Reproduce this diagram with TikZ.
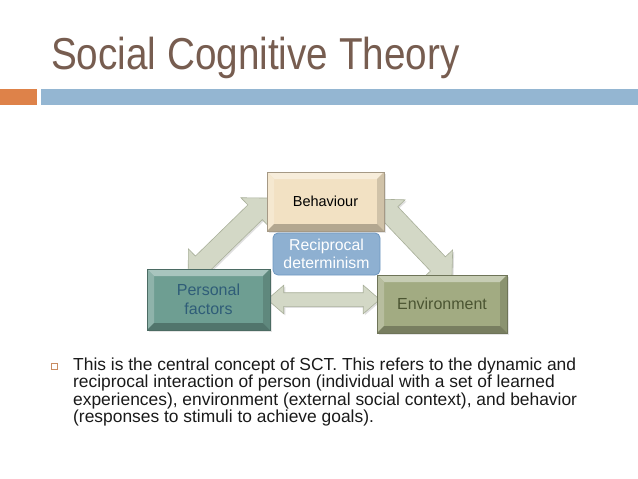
\documentclass[tikz,border=0pt]{standalone}
\usepackage{fontspec}
\setmainfont{Liberation Sans}
\newfontfamily\titlefont[FakeStretch=0.865]{Liberation Sans}
\usetikzlibrary{shapes.arrows,calc,backgrounds,shadows}
\definecolor{titlec}{HTML}{775D50}
\definecolor{bodyc}{HTML}{1A1A1A}
\definecolor{orangebar}{HTML}{DE8249}
\definecolor{bluebar}{HTML}{94B6D2}
\definecolor{bulletc}{HTML}{C98C62}
\definecolor{behfill}{HTML}{F2E1C3}
\definecolor{pffill}{HTML}{6E9E92}
\definecolor{pftext}{HTML}{2F5D78}
\definecolor{envfill}{HTML}{A2AB82}
\definecolor{envtext}{HTML}{4B5532}
\definecolor{recfill}{HTML}{8EB0D1}
\definecolor{recedge}{HTML}{6E97C0}
\definecolor{arrowfill}{HTML}{D3D8C6}
\definecolor{arrowedge}{HTML}{A9B09A}

\begin{document}
\begin{tikzpicture}[x=1pt, y=-1pt,
  bevel/.style={draw=#1!68!black, fill=#1, line width=0.6pt, inner sep=0pt,
    drop shadow={shadow xshift=2pt, shadow yshift=-2pt, opacity=0.2},
    path picture={
      \path (path picture bounding box.north west) coordinate (pnw)
            (path picture bounding box.south east) coordinate (pse);
      \fill[#1!60!white] (pnw) -- (pnw -| pse) -- ([shift={(-7pt,-7pt)}]pnw -| pse)
        -- ([shift={(7pt,-7pt)}]pnw) -- cycle;
      \fill[#1!78!white] (pnw) -- ([shift={(7pt,-7pt)}]pnw)
        -- ([shift={(7pt,7pt)}]pse -| pnw) -- (pse -| pnw) -- cycle;
      \fill[#1!86!black] (pnw -| pse) -- (pse) -- ([shift={(-7pt,7pt)}]pse)
        -- ([shift={(-7pt,-7pt)}]pnw -| pse) -- cycle;
      \fill[#1!74!black] (pse -| pnw) -- (pse) -- ([shift={(-7pt,7pt)}]pse)
        -- ([shift={(7pt,7pt)}]pse -| pnw) -- cycle;
    }},
  bigarrow/.style={double arrow, draw=arrowedge, fill=arrowfill, line width=0.6pt,
    inner xsep=0pt, inner ysep=10pt, minimum width=0pt,
    double arrow head extend=10pt, double arrow tip angle=90,
    drop shadow={shadow xshift=1.5pt, shadow yshift=-1.5pt, opacity=0.25}},
  smallarrow/.style={bigarrow, inner ysep=6.5pt,
    double arrow head extend=7.5pt, double arrow tip angle=82}]

  \useasboundingbox (0,0) rectangle (638,479);

  % title and bars
  \node[anchor=base west, inner sep=0pt, text=titlec,
    font=\titlefont\fontsize{44.7}{50}\selectfont] (title) at (51,69) {Social Cognitive Theory};
  \fill[orangebar] (0,89) rectangle (37,105);
  \fill[bluebar] (41,89) rectangle (638,105);

  % the three factors
  \node[bevel=behfill, minimum width=117pt, minimum height=59pt,
    font=\fontsize{14.5}{17}\selectfont, text=black] (beh) at (325.5,201.5) {Behaviour};
  \node[bevel=pffill, minimum width=123pt, minimum height=61pt, align=center,
    font=\fontsize{16}{18.5}\selectfont, text=pftext] (pf) at (208.5,299.5) {Personal\\factors};
  \node[bevel=envfill, minimum width=130pt, minimum height=58pt,
    font=\fontsize{16}{18.5}\selectfont, text=envtext] (env) at (442,304) {Environment};
  \node[draw=recedge, fill=recfill, rounded corners=5pt, line width=0.8pt,
    minimum width=107pt, minimum height=42pt, inner sep=0pt, align=center,
    font=\fontsize{15.8}{17.5}\selectfont, text=white] (rec) at (326.5,254) {Reciprocal\\determinism};

  % arrow ends
  \coordinate (lpf) at ([shift={(-20.5,9)}]pf.north);
  \coordinate (lbeh) at ([shift={(3,-3.5)}]beh.west);
  \coordinate (rbeh) at ([shift={(-8,-2.5)}]beh.east);
  \coordinate (renv) at ([shift={(10,4)}]env.north);
  \coordinate (hpf) at ([xshift=-3pt]pf.east);
  \coordinate (henv) at ([xshift=3pt]env.west |- pf.east);

  \begin{scope}[on background layer]
    \fill[white] (0,0) rectangle (638,479);
    \path let \p1 = ($(lbeh)-(lpf)$), \n1 = {veclen(\x1,\y1)} in
      (lpf) -- (lbeh) node[bigarrow, sloped, midway, minimum height=\n1] {};
    \path let \p1 = ($(renv)-(rbeh)$), \n1 = {veclen(\x1,\y1)} in
      (rbeh) -- (renv) node[bigarrow, sloped, midway, minimum height=\n1] {};
    \path let \p1 = ($(henv)-(hpf)$), \n1 = {veclen(\x1,\y1)} in
      (hpf) -- (henv) node[smallarrow, sloped, midway, minimum height=\n1] {};
  \end{scope}

  % bullet text
  \node[draw=bulletc, line width=0.7pt, minimum size=6pt, inner sep=0pt] (bul) at (54,366) {};
  \node[anchor=base west, inner sep=0pt, align=left, text=bodyc,
    font=\fontsize{17.4}{17.3}\selectfont] (body) at (73,422.4)
    {This is the central concept of SCT. This refers to the dynamic and\\
     reciprocal interaction of person (individual with a set of learned\\
     experiences), environment (external social context), and behavior\\
     (responses to stimuli to achieve goals).};
\end{tikzpicture}
\end{document}
